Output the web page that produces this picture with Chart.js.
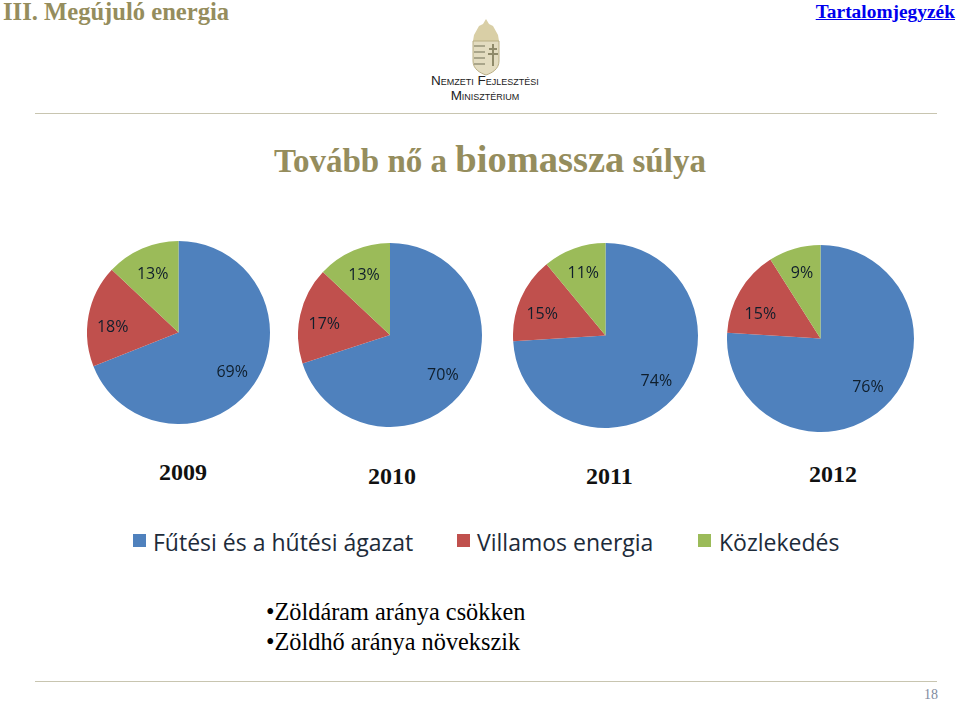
<!DOCTYPE html>
<html>
<head>
<meta charset="utf-8">
<title>Tovább nő a biomassza súlya</title>
<script src="https://cdn.jsdelivr.net/npm/chart.js@4"></script>
<style>
  html, body { margin: 0; padding: 0; background: #fff; }
  #page { position: relative; width: 960px; height: 703px; overflow: hidden; font-family: "Liberation Serif", serif; }
  #page > * { position: absolute; white-space: nowrap; }
  canvas { display: block; }
  .gold { color: #958d5d; font-weight: bold; }
  .rule { height: 1px; background: #c8c5b0; left: 35px; width: 902px; }
  .year { font-size: 24px; font-weight: bold; line-height: 28px; color: #111; }
  .bullet { font-size: 24.3px; line-height: 28px; color: #000; left: 266px; }
  .swatch { width: 13px; height: 13px; }
  .legend { font-family: "Open Sans", sans-serif; font-size: 23px; line-height: 26px; color: #1d2b3a; }
</style>
</head>
<body>
<div id="page">
  <div class="gold" style="left:3px;top:-2px;font-size:24.6px;line-height:28px">III. Megújuló energia</div>
  <div style="right:5px;top:-1px;font-size:19.4px;line-height:26px;font-weight:bold;color:#0000ee;text-decoration:underline">Tartalomjegyzék</div>

  <svg style="left:468px;top:18px" width="36" height="58" viewBox="0 0 36 58">
    <path d="M18 1l3 5 4 2 5 9 1 6H5l1-6 5-9 4-2z" fill="#d9cfa6"/>
    <path d="M5 23h26v20c0 8-7 12-13 14C12 55 5 51 5 43z" fill="#e3dcc0" stroke="#b9ae84"/>
    <path d="M6 28h11M6 34h11M6 40h11M6 46h11" stroke="#a9a58a" stroke-width="2"/>
    <path d="M25 26v22M21 31h8M20 36h10" stroke="#8f8a6a" stroke-width="2"/>
  </svg>
  <div style="left:405px;top:73px;width:160px;text-align:center;font-family:'Liberation Sans',sans-serif;font-variant:small-caps;font-size:13.5px;line-height:15px;color:#222">Nemzeti Fejlesztési<br>Minisztérium</div>

  <div class="rule" style="top:113px"></div>
  <div class="gold" style="left:274px;top:137px;font-size:33px;line-height:44px">Tovább nő a <span style="font-size:38.5px">biomassza</span> súlya</div>

  <div id="pies"></div>
  <div id="legend"></div>

  <div class="bullet" style="top:598px">•Zöldáram aránya csökken</div>
  <div class="bullet" style="top:628px">•Zöldhő aránya növekszik</div>
  <div class="rule" style="top:681px"></div>
  <div style="left:924px;top:687px;font-size:14px;line-height:16px;color:#7f8ba0">18</div>
</div>

<script>
// Megújuló energia megoszlása
const years = ["2009", "2010", "2011", "2012"];
const sectors = ["Fűtési és a hűtési ágazat", "Villamos energia", "Közlekedés"];
const values2009 = [69, 18, 13];
const values2010 = [70, 17, 13];
const values2011 = [74, 15, 11];
const values2012 = [76, 15, 9];
const colors = ["#4f81bd", "#c0504d", "#9bbb59"];

const allValues = [values2009, values2010, values2011, values2012];
const pieCenters = [[178.5, 332], [390, 335], [605.5, 335], [820.5, 338]];
const pieRadius = [91.5, 92, 92.5, 93.5];
const yearLabelPos = [[159, 458], [368, 462], [586, 462], [809, 460]];
const legendSwatches = [133, 457, 698];
const legendTexts = [153, 477, 719];
// small label shifts per slice, the labels in the picture are hand placed
const labelShifts = [
  [[0, 3], [-2, 7], [0, 2]],
  [[0, 2], [-2, 4], [0, 0]],
  [[3, 1], [-3, 5], [0, 0]],
  [[2, 1], [-3, 10], [0, -1]],
];

// percent labels placed on each slice
const percentLabels = {
  id: "percentLabels",
  afterDatasetsDraw(chart) {
    const c = chart.ctx;
    const values = chart.data.datasets[0].data;
    const shifts = chart.options.plugins.percentLabels.shifts;
    chart.getDatasetMeta(0).data.forEach((arc, i) => {
      const mid = (arc.startAngle + arc.endAngle) / 2;
      const dist = arc.outerRadius * 0.71;
      c.save();
      c.font = '16px "Open Sans", sans-serif';
      c.fillStyle = "#0f1e2c";
      c.textAlign = "center";
      c.textBaseline = "middle";
      c.fillText(
        values[i] + "%",
        arc.x + Math.cos(mid) * dist + shifts[i][0],
        arc.y + Math.sin(mid) * dist + shifts[i][1]
      );
      c.restore();
    });
  },
};

const page = document.getElementById("page");

allValues.forEach((values, i) => {
  const r = pieRadius[i];
  const box = document.createElement("div");
  box.style.cssText = `position:absolute;left:${pieCenters[i][0] - r}px;top:${pieCenters[i][1] - r}px;width:${r * 2}px;height:${r * 2}px`;
  const canvas = document.createElement("canvas");
  box.appendChild(canvas);
  page.appendChild(box);

  new Chart(canvas, {
    type: "pie",
    data: {
      labels: sectors,
      datasets: [{ data: values, backgroundColor: colors, borderWidth: 0 }],
    },
    options: {
      responsive: true,
      maintainAspectRatio: false,
      animation: false,
      plugins: {
        legend: { display: false },
        tooltip: { enabled: false },
        percentLabels: { shifts: labelShifts[i] },
      },
    },
    plugins: [percentLabels],
  });

  const label = document.createElement("div");
  label.className = "year";
  label.textContent = years[i];
  label.style.left = yearLabelPos[i][0] + "px";
  label.style.top = yearLabelPos[i][1] + "px";
  page.appendChild(label);
});

sectors.forEach((name, i) => {
  const swatch = document.createElement("div");
  swatch.className = "swatch";
  swatch.style.cssText = `left:${legendSwatches[i]}px;top:534px;background:${colors[i]}`;
  page.appendChild(swatch);

  const text = document.createElement("div");
  text.className = "legend";
  text.textContent = name;
  text.style.left = legendTexts[i] + "px";
  text.style.top = "529px";
  page.appendChild(text);
});
</script>
</body>
</html>
